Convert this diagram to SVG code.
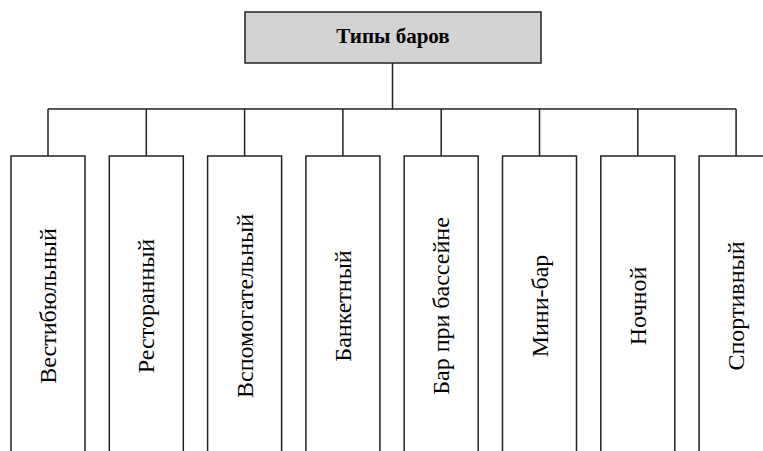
<svg xmlns="http://www.w3.org/2000/svg" width="763" height="451" viewBox="0 0 763 451">
<style>
.ln{fill:none;stroke:#222;stroke-width:1.5}
.box{fill:#fff;stroke:#222;stroke-width:1.5}
.lbl{font-family:"Liberation Serif","Times New Roman",serif;font-size:24px;fill:#000;text-anchor:middle}
.ttl{font-family:"Liberation Serif","Times New Roman",serif;font-size:21px;font-weight:bold;fill:#000;text-anchor:middle}
</style>
<rect width="763" height="451" fill="#fff"/>
<g id="connectors">
<path class="ln" d="M392.5 63V109M48 109H736M48 109V156M146.3 109V156M244.6 109V156M342.9 109V156M441.2 109V156M539.5 109V156M637.8 109V156M736.1 109V156"/>
</g>
<g id="root">
<rect x="245" y="12" width="296" height="51" fill="#d3d3d3" stroke="#222" stroke-width="1.5"/>
<text class="ttl" x="393" y="43">Типы баров</text>
</g>
<g id="n1"><path class="box" d="M11 455V156H85V455"/><text class="lbl" transform="translate(56,306) rotate(-90)">Вестибюльный</text></g>
<g id="n2"><path class="box" d="M109.3 455V156H183.3V455"/><text class="lbl" transform="translate(154.3,306) rotate(-90)">Ресторанный</text></g>
<g id="n3"><path class="box" d="M207.6 455V156H281.6V455"/><text class="lbl" transform="translate(252.6,306) rotate(-90)">Вспомогательный</text></g>
<g id="n4"><path class="box" d="M305.9 455V156H379.9V455"/><text class="lbl" transform="translate(350.9,306) rotate(-90)">Банкетный</text></g>
<g id="n5"><path class="box" d="M404.2 455V156H478.2V455"/><text class="lbl" transform="translate(449.2,306) rotate(-90)">Бар при бассейне</text></g>
<g id="n6"><path class="box" d="M502.5 455V156H576.5V455"/><text class="lbl" transform="translate(547.5,306) rotate(-90)">Мини-бар</text></g>
<g id="n7"><path class="box" d="M600.8 455V156H674.8V455"/><text class="lbl" transform="translate(645.8,306) rotate(-90)">Ночной</text></g>
<g id="n8"><path class="box" d="M699.1 455V156H773.1V455"/><text class="lbl" transform="translate(744.1,306) rotate(-90)">Спортивный</text></g>
</svg>
